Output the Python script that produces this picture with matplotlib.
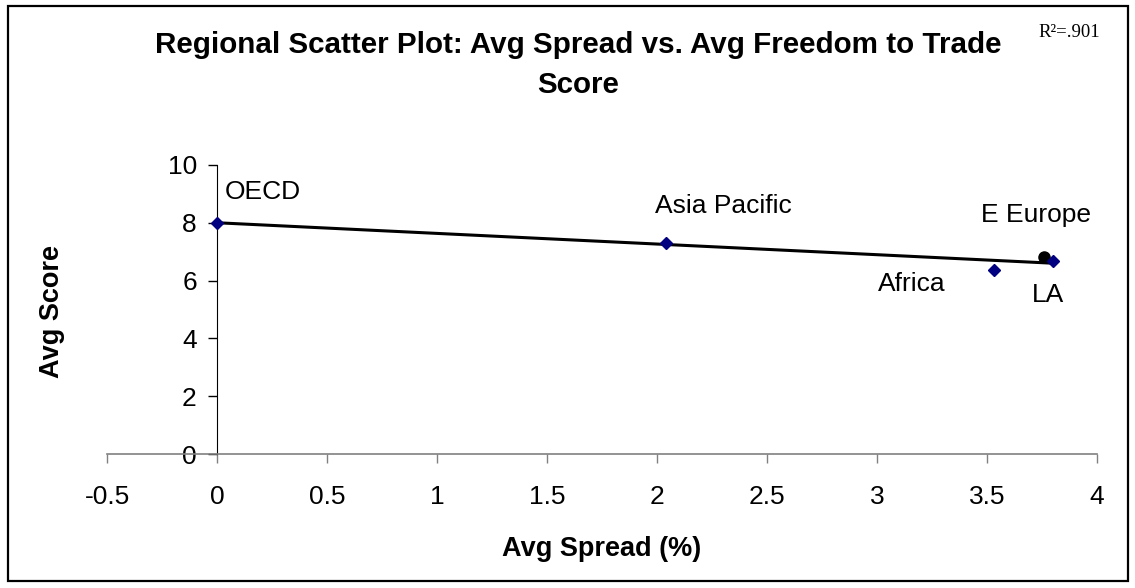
import matplotlib.pyplot as plt
import numpy as np

# Dane
regiony = ["OECD", "Asia Pacific", "Africa", "E Europe", "LA"]
spread = np.array([0.0, 2.04, 3.53, 3.76, 3.80])
score = np.array([8.0, 7.30, 6.37, 6.82, 6.68])
r2_text = ".901"

x_ticks = [-0.5, 0, 0.5, 1, 1.5, 2, 2.5, 3, 3.5, 4]
y_ticks = [0, 2, 4, 6, 8, 10]

# przesunięcia etykiet (piksele, względem punktu, do linii bazowej)
offsets = {
    "OECD": (8, 24),
    "Asia Pacific": (-11, 30),
    "Africa": (-116, -21),
    "E Europe": (-63, 35),
    "LA": (-21, -41),
}

plt.rcParams["font.family"] = ["Liberation Sans", "DejaVu Sans"]
W, H = 1135, 588

fig = plt.figure(figsize=(W / 100, H / 100), dpi=100)
ax = fig.add_axes([107 / W, 1 - 454 / H, 990 / W, 289 / H])

# linia trendu
a, b = np.polyfit(spread, score, 1)
xs = np.array([spread.min(), spread.max()])
ax.plot(xs, a * xs + b, color="black", lw=2.2, zorder=2)

for name, x, y in zip(regiony, spread, score):
    if name == "E Europe":
        ax.plot(x, y, "o", color="black", ms=8, zorder=3)
    else:
        ax.plot(x, y, "D", color="#000080", mec="#000080", ms=6.5, zorder=3)
    ax.annotate(name, (x, y), xytext=offsets[name], textcoords="offset pixels",
                ha="left", va="baseline", fontsize=19)

ax.set_xlim(-0.5, 4)
ax.set_ylim(0, 10)
ax.set_xticks(x_ticks)
ax.set_xticklabels([f"{t:g}" for t in x_ticks])
ax.set_yticks(y_ticks)

for s in ("top", "right"):
    ax.spines[s].set_visible(False)
ax.spines["left"].set_position(("data", 0))
ax.spines["left"].set_color("black")
ax.spines["bottom"].set_color("#808080")
ax.spines["bottom"].set_linewidth(1.2)
ax.tick_params(axis="x", direction="out", length=6.5, width=1, color="#808080",
               labelsize=19, pad=16)
ax.tick_params(axis="y", direction="out", length=6.5, width=1, color="black",
               labelsize=19, pad=8)
ax.patch.set_visible(False)

fig.text(602 / W, 1 - 556 / H, "Avg Spread (%)", ha="center", va="baseline",
         fontsize=19.5, fontweight="bold")
fig.text(52 / W, 1 - 311 / H, "Avg Score", rotation=90, ha="center",
         va="center", fontsize=19.5, fontweight="bold")

fig.text(578 / W, 1 - 53 / H,
         "Regional Scatter Plot: Avg Spread vs. Avg Freedom to Trade",
         ha="center", va="baseline", fontsize=21.3, fontweight="bold")
fig.text(578 / W, 1 - 93 / H, "Score",
         ha="center", va="baseline", fontsize=21.3, fontweight="bold")
fig.text(1038 / W, 1 - 37 / H, "R\u00b2=" + r2_text, ha="left",
         va="baseline", fontsize=13.5, family=["Liberation Serif"])

# ramka
fig.patches.append(plt.Rectangle((8 / W, 7 / H), 1120 / W, 575 / H,
                                 transform=fig.transFigure, fill=False,
                                 lw=1.6, color="black"))

fig.savefig("out.png", dpi=100)
